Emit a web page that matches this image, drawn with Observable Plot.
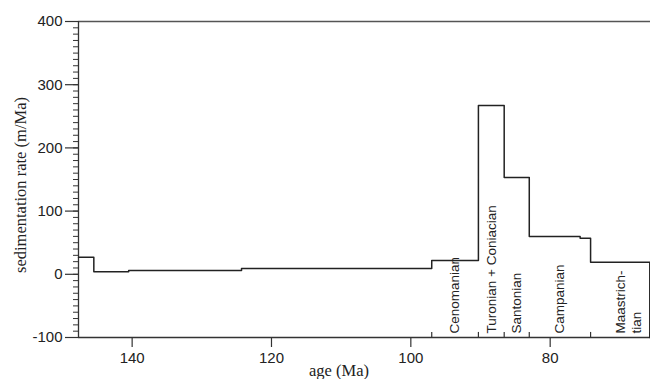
<!DOCTYPE html>
<html>
<head>
<meta charset="utf-8">
<script src="https://cdn.jsdelivr.net/npm/d3@7"></script>
<script src="https://cdn.jsdelivr.net/npm/@observablehq/plot@0.6"></script>
<style>
  html, body { margin: 0; padding: 0; background: #fff; }
  #chart svg { display: block; }
</style>
</head>
<body>
<div id="chart"></div>
<script>
// Step boundaries (age, Ma) and sedimentation rate (m/Ma) for each interval
const stepAges = [147.7, 145.5, 140.5, 124.3, 97.0, 90.3, 86.6, 83.0, 75.7, 74.2, 65.7];
const stepRates = [27, 4, 6, 9, 22, 267, 153, 60, 57, 19];

// Stage boundaries and stage names
const stageBounds = [97.0, 90.3, 86.6, 83.0, 74.2, 65.7];
const stageNames = ["Cenomanian", "Turonian + Coniacian", "Santonian", "Campanian", "Maastrich-\ntian"];

const xTicks = [140, 120, 100, 80];
const yTicks = [-100, 0, 100, 200, 300, 400];
const yMinor = d3.range(-100, 401, 10);

const xDomain = [147.7, 65.6];
const yDomain = [-100, 400];

// build step line points
const stepPts = stepRates.map((v, i) => ({age: stepAges[i], rate: v}));
stepPts.push({age: stepAges[stepAges.length - 1], rate: stepRates[stepRates.length - 1]});
stepPts.push({age: stepAges[stepAges.length - 1], rate: yDomain[0]});

const stages = stageNames.map((name, i) => ({name, mid: (stageBounds[i] + stageBounds[i + 1]) / 2, two: name.includes("\n")}));

const sans = "'Liberation Sans', Arial, Helvetica, sans-serif";
const serif = "'Liberation Serif', 'Times New Roman', serif";

const chart = Plot.plot({
  width: 650,
  height: 379,
  marginLeft: 78,
  marginRight: 0,
  marginTop: 21,
  marginBottom: 42,
  style: {fontFamily: sans, background: "#fff", color: "#222"},
  x: {domain: xDomain, axis: null, label: null},
  y: {domain: yDomain, axis: null, label: null},
  marks: [
    // minor y ticks
    Plot.axisY({ticks: yMinor, tickSize: 5, text: null, label: null, stroke: "#333", strokeWidth: 1}),
    // major y ticks
    Plot.axisY({ticks: yTicks, tickSize: 13, tickPadding: 3, fontSize: 15, label: null, tickFormat: d => String(d), stroke: "#333", strokeWidth: 1.2, fill: "#222"}),
    // major x ticks
    Plot.axisX({ticks: xTicks, tickSize: 10, tickPadding: 5, fontSize: 15, label: null, tickFormat: d => String(d), stroke: "#333", strokeWidth: 1.2, fill: "#222"}),
    // stage boundary ticks (inward)
    Plot.ruleX(stageBounds, {x: d => d, y1: -100, y2: -92, stroke: "#333", strokeWidth: 1.2}),
    // frame
    Plot.ruleY([yDomain[0]], {stroke: "#333", strokeWidth: 1.3}),
    Plot.ruleY([yDomain[1]], {stroke: "#555", strokeWidth: 1.3}),
    Plot.ruleX([xDomain[0]], {stroke: "#333", strokeWidth: 1.3}),
    // step line
    Plot.line(stepPts, {x: "age", y: "rate", curve: "step-after", stroke: "#222", strokeWidth: 1.5}),
    // stage labels
    Plot.text(stages.filter(d => !d.two), {x: "mid", y: yDomain[0], text: "name", rotate: -90, textAnchor: "start", lineAnchor: "middle", dy: -4, fontSize: 13.5, fill: "#222"}),
    Plot.text(stages.filter(d => d.two), {x: "mid", y: yDomain[0], text: "name", rotate: -90, textAnchor: "start", lineAnchor: "middle", dx: 8, dy: -4, fontSize: 13.5, lineHeight: 1.2, fill: "#222"})
  ]
});

// axis titles
const svg = d3.select(chart);
svg.append("text")
  .attr("transform", "translate(22,185) rotate(-90)")
  .attr("text-anchor", "middle")
  .attr("dominant-baseline", "middle")
  .style("font-family", serif)
  .style("font-size", "16.5px")
  .attr("fill", "#222")
  .text("sedimentation rate (m/Ma)");
svg.append("text")
  .attr("x", 339)
  .attr("y", 376)
  .attr("text-anchor", "middle")
  .style("font-family", serif)
  .style("font-size", "16.5px")
  .attr("fill", "#222")
  .text("age (Ma)");

document.getElementById("chart").appendChild(chart);
</script>
</body>
</html>
